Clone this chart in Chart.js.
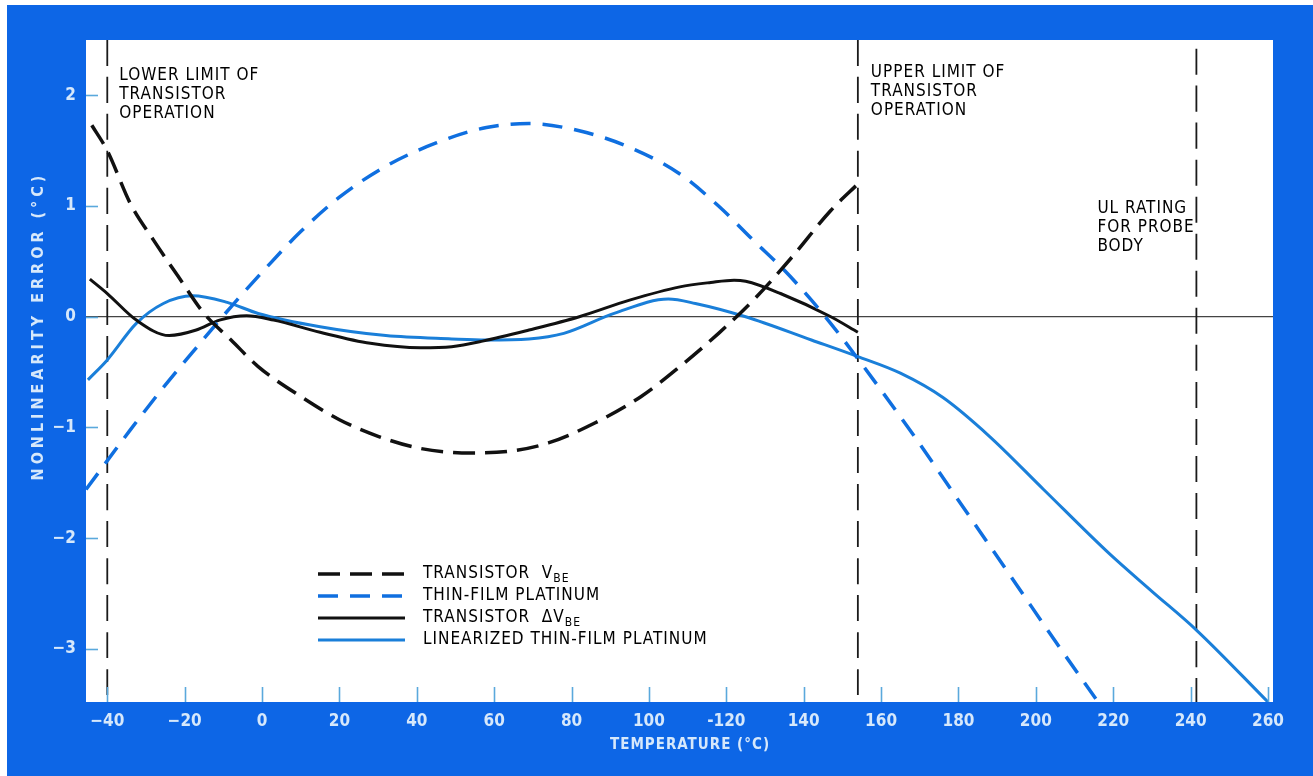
<!DOCTYPE html>
<html>
<head>
<meta charset="utf-8">
<title>Nonlinearity error vs temperature</title>
<script src="https://cdn.jsdelivr.net/npm/chart.js@4.4.1/dist/chart.umd.min.js"></script>
<style>
    html, body { margin: 0; padding: 0; background: #fff; }
    #frame { position: absolute; left: 7px; top: 5px; right: 0; bottom: 0; background: #0d66e6; }
    #wrap { position: absolute; left: 0; top: 0; width: 1313px; height: 776px; }
</style>
</head>
<body>
<div id="frame"></div>
<div id="wrap"><canvas id="chart"></canvas></div>
<script>
// Data (temperature in °C, nonlinearity error in °C)
const tempVbe = [-44, -40, -34, -28, -21, -15, -8, -1, 10, 20, 30, 41, 54, 65, 74, 86, 98, 108, 118, 127, 137, 147, 154];
const errVbe  = [1.73, 1.50, 1.02, 0.69, 0.33, 0.03, -0.21, -0.45, -0.72, -0.93, -1.08, -1.19, -1.23, -1.21, -1.14, -0.96, -0.72, -0.45, -0.15, 0.15, 0.54, 0.96, 1.20];

const tempPt = [-45.5, -34, -26, -17, -8, 1, 10, 20, 32, 45, 58, 69, 82, 95, 108, 118, 127, 135, 142, 149, 154, 168, 182, 195, 205, 215.5];
const errPt  = [-1.56, -1.02, -0.66, -0.28, 0.09, 0.44, 0.77, 1.08, 1.36, 1.57, 1.71, 1.745, 1.68, 1.53, 1.29, 1.00, 0.69, 0.42, 0.15, -0.15, -0.38, -1.05, -1.76, -2.42, -2.93, -3.45];

const tempDvbe = [-44.5, -40, -32.5, -24, -17, -11, -4, 3, 15, 28, 41, 49, 57, 69, 82, 95, 108, 116, 122, 125, 134, 147, 154];
const errDvbe  = [0.34, 0.21, -0.03, -0.17, -0.12, -0.03, 0.01, -0.03, -0.14, -0.24, -0.28, -0.27, -0.22, -0.12, 0.0, 0.15, 0.27, 0.31, 0.33, 0.32, 0.21, 0.0, -0.14];

const tempLin = [-45, -40, -32.5, -25.5, -18, -9, -1, 15, 32, 49, 58, 69, 78, 91, 105, 112, 125, 142, 154, 165, 176, 188, 202, 219, 230, 241.5, 260];
const errLin  = [-0.57, -0.39, -0.06, 0.12, 0.19, 0.13, 0.03, -0.09, -0.17, -0.20, -0.21, -0.20, -0.15, 0.03, 0.16, 0.12, 0.0, -0.21, -0.36, -0.51, -0.73, -1.08, -1.56, -2.14, -2.48, -2.83, -3.48];

// Vertical limit lines
const markerTemps = [-40, 154, 241.5];
const markerTops = [2.5, 2.5, 2.42];
const markerNotes = [
    ['LOWER LIMIT OF', 'TRANSISTOR', 'OPERATION'],
    ['UPPER LIMIT OF', 'TRANSISTOR', 'OPERATION'],
    ['UL RATING', 'FOR PROBE', 'BODY']
];

// Axes
const xTicks = [-40, -20, 0, 20, 40, 60, 80, 100, 120, 140, 160, 180, 200, 220, 240, 260];
const xTickLabels = ['\u221240', '\u221220', '0', '20', '40', '60', '80', '100', '-120', '140', '160', '180', '200', '220', '240', '260'];
const yTicks = [-3, -2, -1, 0, 1, 2];
const xRange = [-45.5, 261.3];
const yRange = [-3.48, 2.5];

const legendNames = ['TRANSISTOR  V', 'THIN-FILM PLATINUM', 'TRANSISTOR  \u0394V', 'LINEARIZED THIN-FILM PLATINUM'];
const legendSubs = ['BE', '', 'BE', ''];

const FONT = '"DejaVu Sans Condensed", "Liberation Sans Narrow", "Roboto", sans-serif';
const LABEL_COLOR = '#d6e8fb';
const TICK_COLOR = '#5aa9dc';

const toPoints = (xs, ys) => xs.map((x, i) => ({ x: x, y: ys[i] }));

const curveSets = [
    { label: legendNames[0], data: toPoints(tempVbe, errVbe), borderColor: '#111', borderWidth: 3.5, borderDash: [22, 10] },
    { label: legendNames[1], data: toPoints(tempPt, errPt), borderColor: '#0f6fe0', borderWidth: 3.5, borderDash: [20, 12] },
    { label: legendNames[2], data: toPoints(tempDvbe, errDvbe), borderColor: '#111', borderWidth: 3, borderDash: [] },
    { label: legendNames[3], data: toPoints(tempLin, errLin), borderColor: '#1a7fd9', borderWidth: 3, borderDash: [] }
];

const markerSets = markerTemps.map((t, i) => ({
    label: 'marker' + i,
    data: [{ x: t, y: markerTops[i] }, { x: t, y: yRange[0] }],
    borderColor: '#1a1a1a',
    borderWidth: 1.8,
    borderDash: [26, 11]
}));

// Plot background, inner tick marks, notes, legend and axis titles
const decorPlugin = {
    id: 'decor',
    beforeDraw(chart) {
        const { ctx, chartArea: a } = chart;
        ctx.save();
        ctx.fillStyle = '#fff';
        ctx.fillRect(a.left, a.top, a.right - a.left, a.bottom - a.top);
        ctx.restore();
    },
    afterDatasetsDraw(chart) {
        const { ctx, chartArea: a, scales } = chart;
        const xs = scales.x, ys = scales.y;
        ctx.save();

        // inner tick marks
        ctx.strokeStyle = TICK_COLOR;
        ctx.lineWidth = 1.6;
        xTicks.forEach(v => {
            const px = Math.round(xs.getPixelForValue(v)) + 0.5;
            ctx.beginPath();
            ctx.moveTo(px, a.bottom);
            ctx.lineTo(px, a.bottom - 15);
            ctx.stroke();
        });
        yTicks.forEach(v => {
            const py = Math.round(ys.getPixelForValue(v)) + 0.5;
            ctx.beginPath();
            ctx.moveTo(a.left, py);
            ctx.lineTo(a.left + 12, py);
            ctx.stroke();
        });

        // notes beside the limit lines
        ctx.fillStyle = '#000';
        ctx.font = '17px ' + FONT;
        ctx.letterSpacing = '1px';
        ctx.textBaseline = 'alphabetic';
        const noteStarts = [[12, 80], [13, 77], [-99, 213]];
        markerNotes.forEach((lines, i) => {
            const px = xs.getPixelForValue(markerTemps[i]) + noteStarts[i][0];
            lines.forEach((t, j) => ctx.fillText(t, px, noteStarts[i][1] + j * 19));
        });

        // legend
        const legX = 318, legW = 87, textX = 423, rowY = [574, 596, 618, 640];
        curveSets.forEach((ds, i) => {
            const y = rowY[i];
            ctx.strokeStyle = ds.borderColor;
            ctx.lineWidth = ds.borderWidth;
            ctx.setLineDash(ds.borderDash);
            ctx.beginPath();
            ctx.moveTo(legX, y);
            ctx.lineTo(legX + legW, y);
            ctx.stroke();
            ctx.setLineDash([]);
            ctx.fillStyle = '#000';
            ctx.font = '17px ' + FONT;
            ctx.textBaseline = 'middle';
            ctx.fillText(legendNames[i], textX, y);
            if (legendSubs[i]) {
                const w = ctx.measureText(legendNames[i]).width;
                ctx.font = '12px ' + FONT;
                ctx.fillText(legendSubs[i], textX + w, y + 5);
            }
        });

        // axis titles
        ctx.fillStyle = LABEL_COLOR;
        ctx.textAlign = 'center';
        ctx.textBaseline = 'middle';
        ctx.font = 'bold 15px ' + FONT;
        ctx.letterSpacing = '1px';
        ctx.fillText('TEMPERATURE (\u00B0C)', 690, 745);
        ctx.translate(39, 326);
        ctx.rotate(-Math.PI / 2);
        ctx.font = 'bold 16px ' + FONT;
        ctx.letterSpacing = '4px';
        ctx.fillText('NONLINEARITY ERROR (\u00B0C)', 0, 0);
        ctx.restore();
    }
};

new Chart(document.getElementById('chart'), {
    type: 'scatter',
    data: {
        datasets: curveSets.concat(markerSets).map(ds => Object.assign({
            showLine: true,
            pointRadius: 0,
            cubicInterpolationMode: 'monotone',
            fill: false
        }, ds))
    },
    options: {
        responsive: true,
        maintainAspectRatio: false,
        animation: false,
        layout: { padding: { top: 40, right: 40, left: 0, bottom: 0 } },
        plugins: { legend: { display: false }, tooltip: { enabled: false } },
        scales: {
            x: {
                type: 'linear',
                min: xRange[0],
                max: xRange[1],
                afterFit: s => { s.height = 74; },
                afterBuildTicks: s => { s.ticks = xTicks.map(v => ({ value: v })); },
                grid: { display: false, drawTicks: false },
                border: { display: false },
                ticks: {
                    autoSkip: false,
                    maxRotation: 0,
                    padding: 9,
                    color: LABEL_COLOR,
                    font: { family: FONT, size: 17, weight: 'bold' },
                    callback: v => xTickLabels[xTicks.indexOf(v)]
                }
            },
            y: {
                min: yRange[0],
                max: yRange[1],
                afterFit: s => { s.width = 86; },
                afterBuildTicks: s => { s.ticks = yTicks.map(v => ({ value: v })); },
                grid: {
                    drawTicks: false,
                    lineWidth: 1.2,
                    color: c => (c.tick && c.tick.value === 0) ? '#444' : 'rgba(0,0,0,0)'
                },
                border: { display: false },
                ticks: {
                    padding: 10,
                    color: LABEL_COLOR,
                    font: { family: FONT, size: 17, weight: 'bold' },
                    callback: v => (v < 0 ? '\u2212' + Math.abs(v) : String(v))
                }
            }
        }
    },
    plugins: [decorPlugin]
});
</script>
</body>
</html>
